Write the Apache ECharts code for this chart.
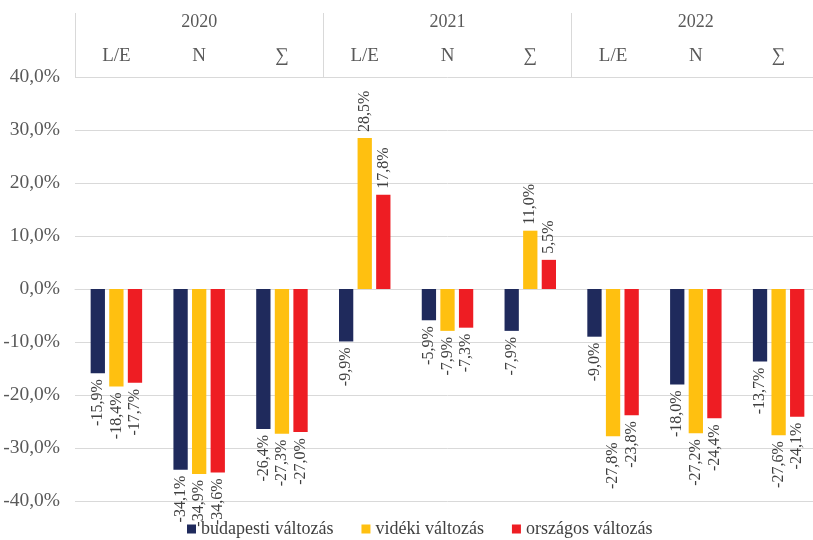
<!DOCTYPE html>
<html>
<head>
<meta charset="utf-8">
<script src="https://cdn.jsdelivr.net/npm/echarts@6/dist/echarts.min.js"></script>
<style>
  html, body { margin: 0; padding: 0; background: #fff; overflow: hidden; }
  /* the plot area runs a few pixels past the right edge of the window */
  #chart { width: 820px; height: 540px; }
</style>
</head>
<body>
<div id="chart"></div>
<script>
// Sub-period categories and their year groups
const subCategories = ['L/E', 'N', '∑', 'L/E', 'N', '∑', 'L/E', 'N', '∑'];
const years = ['2020', '2021', '2022'];

// Change in percent per category
const budapest = [-15.9, -34.1, -26.4, -9.9, -5.9, -7.9, -9.0, -18.0, -13.7];
const videki   = [-18.4, -34.9, -27.3, 28.5, -7.9, 11.0, -27.8, -27.2, -27.6];
const orszagos = [-17.7, -34.6, -27.0, 17.8, -7.3, 5.5, -23.8, -24.4, -24.1];

const seriesNames = ['budapesti változás', 'vidéki változás', 'országos változás'];
const colors = ['#1F2A5C', '#FFC010', '#EE1D23'];

const FONT = '"Liberation Serif", "Times New Roman", serif';
const pct = v => v.toFixed(1).replace('.', ',') + '%';

function withLabels(values) {
  return values.map(v => ({
    value: v,
    label: v >= 0
      ? { position: 'top', align: 'left' }
      : { position: 'bottom', align: 'right' }
  }));
}

function makeSeries(name, values, color) {
  return {
    name: name,
    type: 'bar',
    xAxisIndex: 0,
    barWidth: 14.3,
    barGap: '30%',
    itemStyle: { color: color },
    label: {
      show: true,
      rotate: 90,
      verticalAlign: 'middle',
      distance: 6,
      fontFamily: FONT,
      fontSize: 16,
      color: '#404040',
      formatter: p => pct(p.value)
    },
    data: withLabels(values)
  };
}

const chart = echarts.init(document.getElementById('chart'));
chart.setOption({
  animation: false,
  textStyle: { fontFamily: FONT },
  grid: { left: 75, top: 77, right: 0, height: 424, containLabel: false },
  legend: {
    bottom: 2,
    left: 187,
    padding: 0,
    itemWidth: 9,
    itemHeight: 9,
    itemGap: 28,
    icon: 'rect',
    textStyle: { fontFamily: FONT, fontSize: 18, color: '#404040' },
    data: seriesNames
  },
  xAxis: [
    {
      type: 'category',
      position: 'top',
      data: subCategories,
      axisLine: { show: true, lineStyle: { color: '#D9D9D9' } },
      axisTick: { show: false },
      axisLabel: { margin: 11, fontFamily: FONT, fontSize: 19, color: '#595959' }
    },
    {
      type: 'category',
      position: 'top',
      data: years,
      axisLine: { show: false },
      axisTick: { show: true, length: 64, lineStyle: { color: '#D9D9D9' } },
      axisLabel: { margin: 46, fontFamily: FONT, fontSize: 18, color: '#595959' }
    }
  ],
  yAxis: {
    type: 'value',
    min: -40,
    max: 40,
    interval: 10,
    axisLine: { show: false },
    axisTick: { show: false },
    splitLine: { lineStyle: { color: '#D9D9D9' } },
    axisLabel: {
      margin: 15,
      fontFamily: FONT,
      fontSize: 19.5,
      color: '#595959',
      formatter: v => pct(v)
    }
  },
  series: [
    makeSeries(seriesNames[0], budapest, colors[0]),
    makeSeries(seriesNames[1], videki, colors[1]),
    makeSeries(seriesNames[2], orszagos, colors[2])
  ]
});
</script>
</body>
</html>
